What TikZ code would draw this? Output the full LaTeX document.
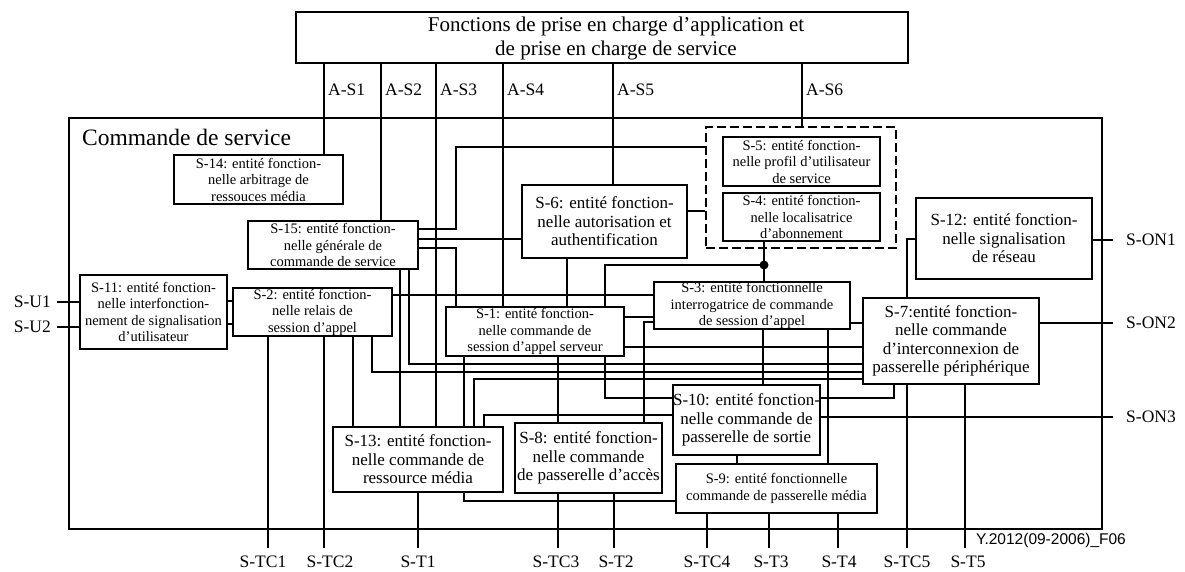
\documentclass[tikz,border=0pt]{standalone}
\usepackage{fontspec}
\setmainfont{Liberation Serif}
\setsansfont{Liberation Sans}
\begin{document}
\begin{tikzpicture}[x=1pt,y=-1pt,
  wire/.style={line width=1.7pt},
  fbox/.style={draw, line width=2.8pt, inner sep=0pt, align=center},
  sm/.style={fbox, font=\fontsize{14.5}{16.5}\selectfont},
  lg/.style={fbox, font=\fontsize{17}{18.5}\selectfont},
  lbl/.style={font=\fontsize{17.5}{20}\selectfont, inner sep=0pt},
  bot/.style={lbl, anchor=north, inner ysep=8pt},
  onl/.style={lbl, anchor=west, inner xsep=13pt},
  ul/.style={lbl, anchor=east, inner xsep=6pt},
  asl/.style={lbl, anchor=west},
]
\useasboundingbox (0,0) rectangle (1185,571);

% service control frame and the application/service support block
\node[draw, line width=2.4pt, minimum width=1033pt, minimum height=411pt, inner sep=0pt] (sc) at (585.5,323.5) {};
\node[font=\fontsize{23.5}{26}\selectfont, anchor=west, inner sep=0pt] (sct) at (82,137) {Commande de service};
\node[draw, line width=2.2pt, minimum width=612pt, minimum height=51pt, inner sep=0pt] (top) at (602,37.5) {};
\node[align=center, inner sep=0pt, font=\fontsize{21}{24.5}\selectfont] (ttl) at (616,38.5)
      {Fonctions de prise en charge d'application et\\de prise en charge de service};

% functional entities
\node[sm, minimum width=169pt, minimum height=49pt] (s14) at (258.5,179.5) {S-14: entité fonction-\\nelle arbitrage de\\ressouces média};
\node[sm, minimum width=170pt, minimum height=48pt] (s15) at (333,245) {S-15: entité fonction-\\nelle générale de\\commande de service};
\node[sm, minimum width=147pt, minimum height=74pt] (s11) at (153.5,312) {S-11: entité fonction-\\nelle interfonction-\\nement de signalisation\\d'utilisateur};
\node[sm, minimum width=159pt, minimum height=48pt] (s2) at (312.5,312) {S-2: entité fonction-\\nelle relais de\\session d'appel};
\node[lg, minimum width=165pt, minimum height=73pt] (s6) at (604.5,221.5) {S-6: entité fonction-\\nelle autorisation et\\authentification};
\node[draw, line width=2.8pt, dash pattern=on 9pt off 4pt, minimum width=190pt, minimum height=121pt, inner sep=0pt] (dsh) at (801,187.5) {};
\node[sm, minimum width=157pt, minimum height=49pt] (s5) at (801.5,161.5) {S-5: entité fonction-\\nelle profil d'utilisateur\\de service};
\node[sm, minimum width=157pt, minimum height=48pt] (s4) at (801.5,217) {S-4: entité fonction-\\nelle localisatrice\\d'abonnement};
\node[lg, minimum width=176pt, minimum height=81pt] (s12) at (1004,238.5) {S-12: entité fonction-\\nelle signalisation\\de réseau};
\node[sm, minimum width=178pt, minimum height=49pt] (s1) at (535,331.5) {S-1: entité fonction-\\nelle commande de\\session d'appel serveur};
\node[sm, minimum width=196pt, minimum height=47pt] (s3) at (752,305.5) {S-3: entité fonctionnelle\\interrogatrice de commande\\de session d'appel};
\node[lg, minimum width=176pt, minimum height=86pt] (s7) at (951,341) {S-7:entité fonction-\\nelle commande\\d'interconnexion de\\passerelle périphérique};
\node[lg, minimum width=147pt, minimum height=70pt] (s10) at (746.5,420) {S-10: entité fonction-\\nelle commande de\\passerelle de sortie};
\node[lg, minimum width=170pt, minimum height=65pt] (s13) at (418,459.5) {S-13: entité fonction-\\nelle commande de\\ressource média};
\node[lg, minimum width=147pt, minimum height=70pt] (s8) at (588.5,458) {S-8: entité fonction-\\nelle commande\\de passerelle d'accès};
\node[sm, minimum width=201pt, minimum height=49pt] (s9) at (776.5,488.5) {S-9: entité fonctionnelle\\commande de passerelle média};
\node[circle, fill, inner sep=0pt, minimum size=9pt] (jn) at (764,265) {};

% reference point labels
\node[asl] (las1) at (328,90) {A-S1};
\node[asl] (las2) at (385,90) {A-S2};
\node[asl] (las3) at (440,90) {A-S3};
\node[asl] (las4) at (507,90) {A-S4};
\node[asl] (las5) at (617,90) {A-S5};
\node[asl] (las6) at (806,90) {A-S6};
\node[ul] (lsu1) at (57,302) {S-U1};
\node[ul] (lsu2) at (57,327) {S-U2};
\node[onl] (lson1) at (1113,240) {S-ON1};
\node[onl] (lson2) at (1113,323) {S-ON2};
\node[onl] (lson3) at (1113,417) {S-ON3};
\node[bot] (ltc1) at (263,548) {S-TC1};
\node[bot] (ltc2) at (330,548) {S-TC2};
\node[bot] (lt1) at (418,548) {S-T1};
\node[bot] (ltc3) at (556,548) {S-TC3};
\node[bot] (lt2) at (616,548) {S-T2};
\node[bot] (ltc4) at (707,548) {S-TC4};
\node[bot] (lt3) at (771,548) {S-T3};
\node[bot] (lt4) at (839,548) {S-T4};
\node[bot] (ltc5) at (907,548) {S-TC5};
\node[bot] (lt5) at (968,548) {S-T5};
\node[font=\sffamily\fontsize{15.5}{18}\selectfont, anchor=west, inner sep=0pt] (fig) at (976,540) {Y.2012(09-2006)\_F06};

% A-S interfaces
\draw[wire] (top.south -| 324,0) -- (s14.north -| 324,0);
\draw[wire] (top.south -| 381,0) -- (s15.north -| 381,0);
\draw[wire] (top.south -| 436,0) -- (s13.north -| 436,0);
\draw[wire] (top.south -| 503,0) -- (s1.north -| 503,0);
\draw[wire] (top.south -| 613,0) -- (s6.north -| 613,0);
\draw[wire] (top.south -| 802,0) -- (dsh.north -| 802,0);

% user side
\draw[wire] (lsu1.east) -- (s11.west |- lsu1.east);
\draw[wire] (lsu2.east) -- (s11.west |- lsu2.east);
\draw[wire] (s11.east |- 0,301) -- (s2.west |- 0,301);
\draw[wire] (s11.east |- 0,324) -- (s2.west |- 0,324);

% S-2 links
\draw[wire] (s2.east |- 0,295) -- (s3.west |- 0,295);
\draw[wire] (s2.south -| 268,0) -- (ltc1.north -| 268,0);
\draw[wire] (s2.south -| 324,0) -- (ltc2.north -| 324,0);
\draw[wire] (s2.south -| 353,0) -- (s13.north -| 353,0);
\draw[wire] (s2.south -| 372,0) |- (s7.west |- 0,372);

% S-15 links
\draw[wire] (s15.east |- 0,229) -| (456,147) -- (dsh.west |- 0,147);
\draw[wire] (s15.east |- 0,239) -- (s6.west |- 0,239);
\draw[wire] (s15.east |- 0,248) -| (s1.north -| 456,0);
\draw[wire] (s15.south -| 400,0) -- (s13.north -| 400,0);
\draw[wire] (s15.south -| 409,0) |- (s7.west |- 0,364);

% S-6 links
\draw[wire] (s6.south -| 567,0) -- (s1.north -| 567,0);
\draw[wire] (s6.east |- 0,211) -- (dsh.west |- 0,211);

% S-4 junction
\draw[wire] (s4.south -| jn) -- (s3.north -| jn);
\draw[wire] (jn.center) -| (s1.north -| 605,0);

% S-1 links
\draw[wire] (s1.east |- 0,317) -- (s3.west |- 0,317);
\draw[wire] (s1.east |- 0,347) -- (s7.west |- 0,347);
\draw[wire] (s1.south -| 464,0) -- (s13.north -| 464,0);
\draw[wire] (s1.south -| 558,0) -- (s8.north -| 558,0);
\draw[wire] (s1.south -| 605,0) |- (s10.west |- 0,398);

% S-3 links
\draw[wire] (s3.west |- 0,322) -| (s8.north -| 644,0);
\draw[wire] (s3.east |- 0,323) -- (s7.west |- 0,323);
\draw[wire] (s3.south -| 763,0) -- (s10.north -| 763,0);
\draw[wire] (s3.south -| 828,0) -- (s9.north -| 828,0);

% S-7 and S-12 links
\draw[wire] (s7.north -| 907,0) |- (s12.west |- 0,239);
\draw[wire] (s12.east |- lson1) -- (lson1.west);
\draw[wire] (s7.east |- lson2) -- (lson2.west);
\draw[wire] (s7.south -| 894,0) |- (s10.east |- 0,398);
\draw[wire] (s7.south -| 907,0) -- (ltc5.north -| 907,0);
\draw[wire] (s7.south -| 965,0) -- (lt5.north -| 965,0);

% S-10 links
\draw[wire] (s10.east |- lson3) -- (lson3.west);
\draw[wire] (s10.south -| 737,0) -- (s9.north -| 737,0);

% S-13 links
\draw[wire] (s13.north -| 474,0) |- (s7.west |- 0,379);
\draw[wire] (s13.north -| 484,0) |- (s10.west |- 0,415);
\draw[wire] (s13.south -| 418,0) -- (lt1.north -| 418,0);
\draw[wire] (s13.south -| 464,0) |- (s9.west |- 0,501);

% S-8 and S-9 transport-side links
\draw[wire] (s8.south -| 558,0) -- (ltc3.north -| 558,0);
\draw[wire] (s8.south -| 614,0) -- (lt2.north -| 614,0);
\draw[wire] (s9.south -| 707,0) -- (ltc4.north -| 707,0);
\draw[wire] (s9.south -| 769,0) -- (lt3.north -| 769,0);
\draw[wire] (s9.south -| 838,0) -- (lt4.north -| 838,0);
\end{tikzpicture}
\end{document}
